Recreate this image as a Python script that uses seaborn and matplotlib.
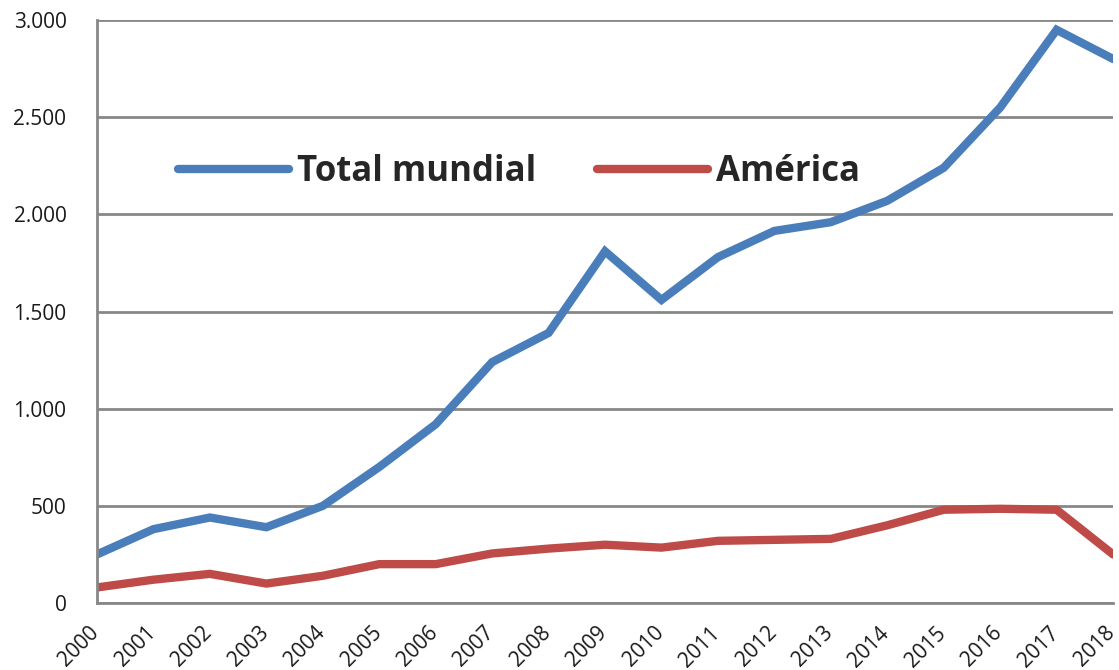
import pandas as pd
import matplotlib.pyplot as plt
import matplotlib.transforms as mtransforms
import seaborn as sns
from matplotlib.ticker import FuncFormatter, MultipleLocator

years = list(range(2000, 2019))
total_mundial = [250, 380, 440, 390, 500, 700, 920, 1240, 1390, 1810, 1560,
                 1780, 1915, 1960, 2070, 2240, 2550, 2950, 2800]
america = [80, 120, 150, 100, 140, 200, 200, 255, 280, 300, 285,
           320, 325, 330, 400, 480, 485, 480, 250]
series_names = ["Total mundial", "América"]
colors = ["#4A7EBB", "#BE4B48"]

df = pd.DataFrame({
    "year": years * 2,
    "value": total_mundial + america,
    "serie": [series_names[0]] * len(years) + [series_names[1]] * len(years),
})

sns.set_style("white")
plt.rcParams["font.family"] = ["Open Sans", "DejaVu Sans"]

fig = plt.figure(figsize=(11.19, 6.70), dpi=100)
ax = fig.add_axes([0.0867, 0.1, 0.908, 0.870])

sns.lineplot(data=df, x="year", y="value", hue="serie", palette=colors,
             linewidth=6, ax=ax, solid_capstyle="round", solid_joinstyle="miter")

ax.set_xlim(2000, 2018)
ax.set_ylim(0, 3000)
ax.yaxis.set_major_locator(MultipleLocator(500))
ax.yaxis.set_major_formatter(FuncFormatter(lambda v, p: f"{int(v):,}".replace(",", ".")))
ax.grid(axis="y", color="#878787", linewidth=2)
ax.set_axisbelow(True)

ax.set_xticks(years)
ax.set_xticklabels([str(y) for y in years], rotation=45, ha="right", rotation_mode="anchor")
ax.xaxis.set_minor_locator(MultipleLocator(2))
ax.tick_params(axis="x", which="major", length=0, pad=14, labelsize=15, labelcolor="#1a1a1a")
ax.tick_params(axis="x", which="minor", length=5, width=2, color="#878787", direction="out")
ax.tick_params(axis="y", length=4, width=2, color="#878787", direction="out",
               labelsize=15, labelcolor="#1a1a1a", pad=18)

# nudge rotated year labels left so they sit under their ticks
shift = mtransforms.ScaledTranslation(-6 / 72, 0, fig.dpi_scale_trans)
for lbl in ax.get_xticklabels():
    lbl.set_transform(lbl.get_transform() + shift)

for s in ["top", "right"]:
    ax.spines[s].set_visible(False)
for s in ["left", "bottom"]:
    ax.spines[s].set_color("#878787")
    ax.spines[s].set_linewidth(2)

ax.set_xlabel("")
ax.set_ylabel("")

leg = ax.legend(loc="center left", bbox_to_anchor=(0.0797, 0.739), ncol=2, frameon=False,
                prop={"weight": "bold", "size": 25}, handlelength=3.2, handletextpad=0.23,
                columnspacing=1.75, borderpad=0, borderaxespad=0)
for line in leg.get_lines():
    line.set_linewidth(6)
    line.set_solid_capstyle("round")

plt.savefig("out.png", dpi=100)
plt.close()
